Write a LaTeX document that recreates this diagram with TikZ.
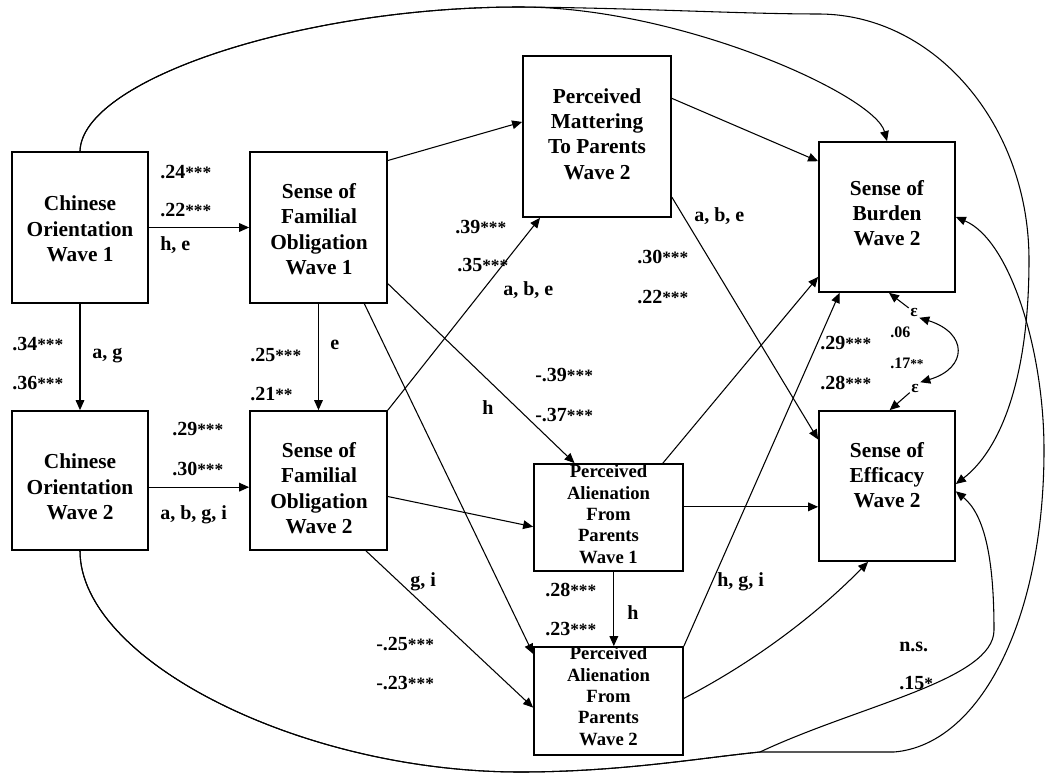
\documentclass[tikz,border=0pt]{standalone}
\usepackage{fontspec}
\setmainfont{Liberation Serif}
\usetikzlibrary{arrows.meta,fit}

\newcommand{\stars}[1]{{\fontsize{13pt}{13pt}\selectfont #1}}

\begin{document}
\begin{tikzpicture}[x=0.75pt,y=-0.75pt,
  box/.style={draw,line width=1.3pt,inner sep=0pt},
  bigtxt/.style={align=center,inner sep=0pt,font=\fontsize{16pt}{19pt}\selectfont\bfseries},
  smalltxt/.style={align=center,inner sep=0pt,font=\fontsize{14pt}{16pt}\selectfont\bfseries},
  coef/.style={anchor=west,inner sep=0pt,font=\fontsize{15pt}{16pt}\selectfont\bfseries},
  smallcoef/.style={anchor=west,inner sep=0pt,font=\fontsize{12pt}{13pt}\selectfont\bfseries},
  eps/.style={inner sep=1pt,font=\fontsize{13pt}{13pt}\selectfont\bfseries},
  arr/.style={-{Triangle[length=7.5pt,width=6.5pt]},line width=0.8pt},
  dbl/.style={{Triangle[length=7.5pt,width=6.5pt]}-{Triangle[length=7.5pt,width=6.5pt]},line width=0.8pt}]

  \useasboundingbox (0,0) rectangle (1047,774);

  % Boxes
  \node[box,fit={(12,152)(148,303)}] (co1) {};
  \node[box,fit={(250,152)(387,303)}] (sfo1) {};
  \node[box,fit={(12,411)(148,550)}] (co2) {};
  \node[box,fit={(250,411)(387,550)}] (sfo2) {};
  \node[box,fit={(523,56)(671,217)}] (pmp) {};
  \node[box,fit={(534,464)(683,571)}] (pap1) {};
  \node[box,fit={(534,647)(683,755)}] (pap2) {};
  \node[box,fit={(819,142)(955,292)}] (sb) {};
  \node[box,fit={(819,411)(955,561)}] (se) {};

  % Box texts
  \node[bigtxt] (co1-t) at (80,229) {Chinese\\Orientation\\Wave 1};
  \node[bigtxt] (sfo1-t) at (319,229) {Sense of\\Familial\\Obligation\\Wave 1};
  \node[bigtxt] (co2-t) at (80,487) {Chinese\\Orientation\\Wave 2};
  \node[bigtxt] (sfo2-t) at (319,488) {Sense of\\Familial\\Obligation\\Wave 2};
  \node[bigtxt] (pmp-t) at (597,134) {Perceived\\Mattering\\To Parents\\Wave 2};
  \node[bigtxt] (sb-t) at (887,213) {Sense of\\Burden\\Wave 2};
  \node[bigtxt] (se-t) at (887,475) {Sense of\\Efficacy\\Wave 2};
  \node[smalltxt] (pap1-t) at (608.5,514) {Perceived\\Alienation\\From\\Parents\\Wave 1};
  \node[smalltxt] (pap2-t) at (608.5,696) {Perceived\\Alienation\\From\\Parents\\Wave 2};

  % Straight paths
  \draw[arr] (co1) -- (sfo1);
  \draw[arr] (co1) -- (co2);
  \draw[arr] (sfo1) -- (sfo2);
  \draw[arr] ([yshift=-5pt]co2.east) -- ([yshift=-5pt]sfo2.west);
  \draw[arr] (sfo1.44) -- (pmp.169);
  \draw[arr] (sfo2.north east) -- (pmp.235);
  \draw[arr] (pmp.27) -- (sb.141);
  \draw[arr] (pmp.-39) -- (se.146);
  \draw[arr] (sfo1.-39) -- (pap1.122);
  \draw[arr] (sfo1.-59.5) -- (pap2.148);
  \draw[arr] (sfo2.-13) -- (pap1.187);
  \draw[arr] (sfo2.-56) -- (pap2.185);
  \draw[arr] (pap1.45) -- (sb.221);
  \draw[arr] ([yshift=8pt]pap1.east) -- ([yshift=8pt]pap1.east -| se.west);
  \draw[arr] ([xshift=4pt]pap1.south) -- ([xshift=4pt]pap2.north);
  \draw[arr] (pap2.north east) -- (sb.238);
  \draw[arr] (pap2.2) .. controls (752,663) and (814,617) .. (se.256);

  % Residuals
  \node[eps] (eps-b) at (914,312) {ε};
  \node[eps] (eps-e) at (915,388) {ε};
  \draw[arr] (eps-b) -- ([xshift=1.5pt]sb.south);
  \draw[arr] (eps-e) -- ([xshift=2pt]se.north);
  \draw[dbl] (eps-b.south east) .. controls (968,333) and (968,368) .. (eps-e.north east);

  % Wave 1 orientation over the top
  \draw[arr] (co1.north) .. controls (82,80) and (300,7) .. (520,7)
    .. controls (680,7) and (875,95) .. (sb.north);
  \draw[arr] (co1.north) .. controls (82,80) and (300,7) .. (520,7)
    .. controls (640,8) and (740,14) .. (820,14)
    .. controls (935,15) and (1029,125) .. (1029,260)
    .. controls (1029,380) and (1000,450) .. ([yshift=1.5pt]se.east);

  % Wave 2 orientation under the bottom
  \draw[arr] (co2.south) .. controls (80,660) and (300,772) .. (520,772)
    .. controls (620,772) and (700,758) .. (760,752) -- (894,752)
    .. controls (980,745) and (1044,620) .. (1044,450)
    .. controls (1044,350) and (1010,240) .. (sb.east);
  \draw[arr] (co2.south) .. controls (80,660) and (300,772) .. (520,772)
    .. controls (620,772) and (700,758) .. (760,752)
    .. controls (860,705) and (994,680) .. (994,630)
    .. controls (994,560) and (985,515) .. ([yshift=-4pt]se.east);

  % Coefficients and conditions
  \foreach \x/\y/\t [count=\i] in {
      160/172/{.24\stars{***}}, 160/210/{.22\stars{***}}, 160/245/{h, e},
      12/344/{.34\stars{***}}, 12/383/{.36\stars{***}}, 92/356/{a, g},
      250/355/{.25\stars{***}}, 250/394/{.21\stars{**}}, 330/345/{e},
      172/429/{.29\stars{***}}, 172/469/{.30\stars{***}}, 160/515/{a, b, g, i},
      455/227/{.39\stars{***}}, 457/265/{.35\stars{***}}, 503/290/{a, b, e},
      482/408/{h}, 535/375/{-.39\stars{***}}, 535/415/{-.37\stars{***}},
      694/216/{a, b, e}, 637/257/{.30\stars{***}}, 637/297/{.22\stars{***}},
      820/343/{.29\stars{***}}, 820/383/{.28\stars{***}},
      410/582/{g, i}, 376/644/{-.25\stars{***}}, 376/683/{-.23\stars{***}},
      545/590/{.28\stars{***}}, 545/629/{.23\stars{***}}, 627/613/{h},
      717/582/{h, g, i}, 899/647/{n.s.}, 899/683/{.15\stars{*}}}
    \node[coef] (c\i) at (\x,\y) {\t};

  \node[smallcoef] (r1) at (890,332) {.06};
  \node[smallcoef] (r2) at (890,363) {.17{\fontsize{10pt}{10pt}\selectfont **}};

\end{tikzpicture}
\end{document}
